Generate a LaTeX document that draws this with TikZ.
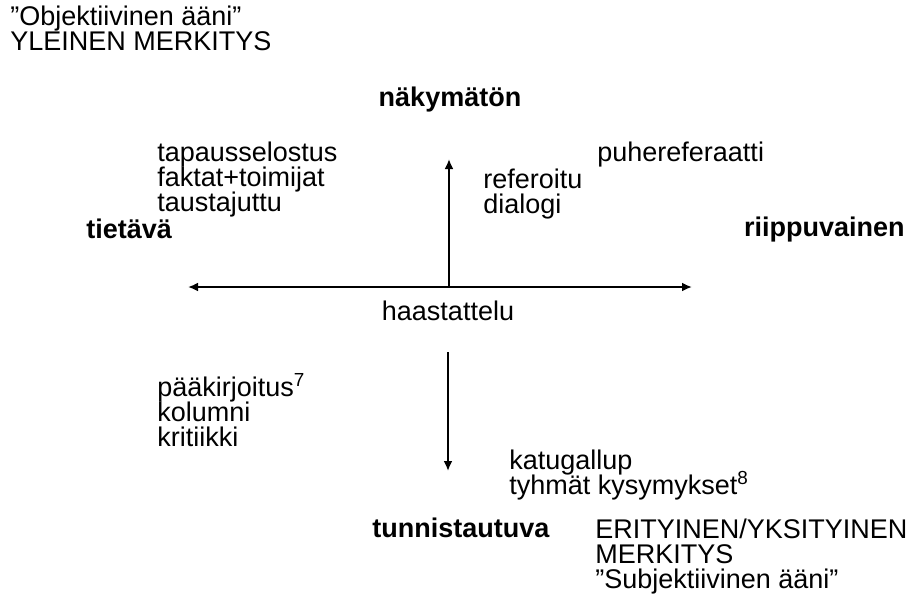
\documentclass[tikz,border=0pt]{standalone}
\usepackage{fontspec}
\setmainfont{Liberation Sans}
\usetikzlibrary{positioning}
\usetikzlibrary{arrows.meta}

\newcommand\tightskip{\lineskiplimit=-6pt\relax}

\tikzset{
  lbl/.style={font=\fontsize{13.5}{12.5}\selectfont\tightskip, inner sep=0pt, align=left},
  pole/.style={lbl, font=\fontsize{13.5}{12.5}\selectfont\bfseries},
  axis/.style={line width=1pt, >={Latex[length=5pt,width=4.5pt]}},
}

\begin{document}
\begin{tikzpicture}[x=0.5pt,y=-0.5pt]
	  \useasboundingbox (0,0) rectangle (911,607);
	  % axes
	  \coordinate (O) at (449,287);
	  \coordinate (W) at (188,287);
	  \coordinate (E) at (692,287);
	  \coordinate (N) at (449,159);
	  \coordinate (S1) at (448,352);
	  \coordinate (S2) at (448,471);
	  \draw[axis,<->] (W) -- (E);
	  \draw[axis,->] (O) -- (N);
	  \draw[axis,->] (S1) -- (S2);
	  % poles
	  \node (nak) [pole] at (450,100) {näkymätön};
	  \node (tie) [pole,anchor=west] at (86,229) {tietävä};
	  \node (rii) [pole,anchor=east] at (905,230) {riippuvainen};
	  \node (tun) [pole,anchor=west] at (372,528) {tunnistautuva};
	  % corners
	  \node (obj) [lbl,anchor=west] at (10,28) {”Objektiivinen ääni”\\YLEINEN MERKITYS};
	  \node (sub) [lbl,anchor=north west] at (595,519) {ERITYINEN/YKSITYINEN\\MERKITYS\\”Subjektiivinen ääni”};
	  % genres
	  \node (tap) [lbl,anchor=west] at (157,180) {tapausselostus\\faktat+toimijat\\taustajuttu};
	  \node (puh) [lbl,anchor=west] at (597,155) {puhereferaatti};
	  \node (ref) [lbl,anchor=west] at (483,194) {referoitu\\dialogi};
	  \node (haa) [lbl] at (448,311) {haastattelu};
	  \node (paa) [lbl,anchor=west] at (157,410) {pääkirjoitus\textsuperscript{7}\\kolumni\\kritiikki};
	  \node (kat) [lbl,anchor=west] at (509,475) {katugallup\\tyhmät kysymykset\textsuperscript{8}};
	\end{tikzpicture}
\end{document}
